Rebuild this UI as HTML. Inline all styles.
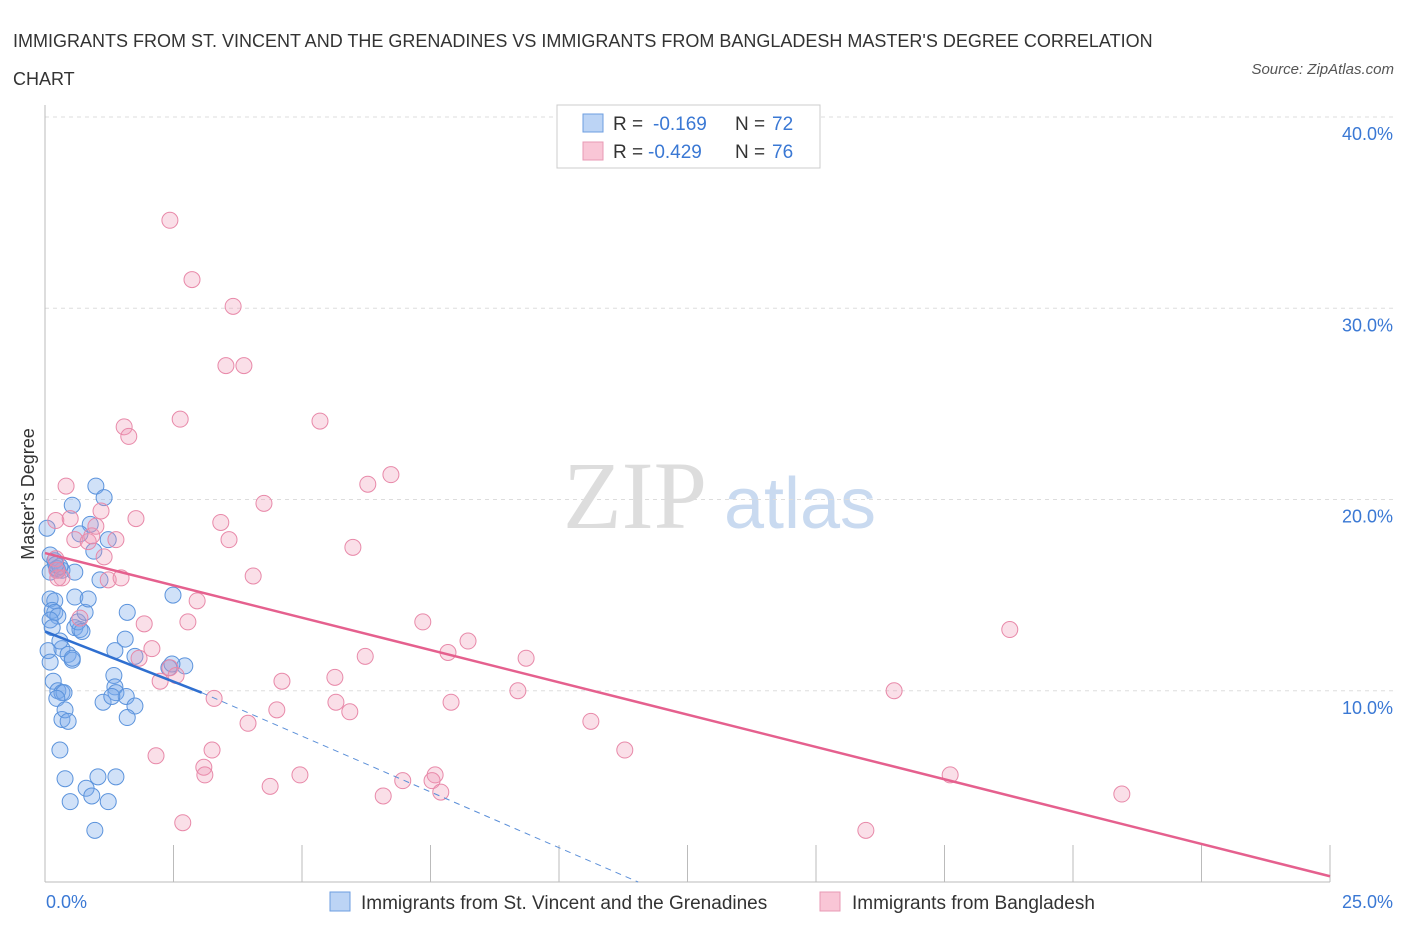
<!DOCTYPE html>
<html><head><meta charset="utf-8">
<style>
body{margin:0;background:#fff;font-family:"Liberation Sans",sans-serif;}
#wrap{position:relative;width:1406px;height:930px;overflow:hidden;}
.t{position:absolute;white-space:nowrap;}
</style></head>
<body>
<div id="wrap">
<div class="t" style="left:13px;top:22px;font-size:18px;color:#333;line-height:38px;">IMMIGRANTS FROM ST. VINCENT AND THE GRENADINES VS IMMIGRANTS FROM BANGLADESH MASTER'S DEGREE CORRELATION<br>CHART</div>
<div class="t" style="right:12px;top:61px;font-size:15px;color:#555;font-style:italic;">Source: ZipAtlas.com</div>
<svg id="svg" width="1406" height="930" style="position:absolute;left:0;top:0"></svg>
</div>
<script>
const xTicks=[0,2.5,5,7.5,10,12.5,15,17.5,20,22.5,25];
const yTicks=[10,20,30,40];
const yTickLabels=["10.0%","20.0%","30.0%","40.0%"];
const blueX=[0.04,0.1,0.19,0.25,0.1,0.33,0.23,0.29,0.1,0.19,0.14,0.19,0.25,0.1,0.14,0.33,0.45,0.53,0.06,0.1,0.16,0.25,0.33,0.37,0.23,0.33,0.39,0.45,0.29,0.39,0.49,0.53,0.58,0.68,0.64,0.72,0.78,0.58,0.84,0.88,0.95,0.99,1.15,1.07,0.53,0.58,0.68,1.23,1.36,1.56,1.6,1.34,1.36,1.38,1.58,1.13,1.3,1.75,1.6,1.03,0.8,0.91,1.38,1.23,0.97,2.49,1.75,2.41,2.72,2.47,0.21,0.29];
const blueY=[18.5,17.1,16.8,16.3,16.2,16.3,16.4,16.5,14.8,14.7,14.2,14.1,13.9,13.7,13.3,12.2,11.9,11.6,12.1,11.5,10.5,10.0,9.9,9.9,9.6,8.5,9.0,8.4,6.9,5.4,4.2,11.7,13.3,13.2,13.6,13.1,14.1,14.9,14.8,18.7,17.3,20.7,20.1,15.8,19.7,16.2,18.2,17.9,12.1,12.7,14.1,10.8,10.2,9.9,9.7,9.4,9.7,9.2,8.6,5.5,4.9,4.5,5.5,4.2,2.7,15.0,11.8,11.2,11.3,11.4,16.6,12.6];
const pinkX=[2.43,2.86,3.66,3.52,3.87,2.63,5.35,1.54,1.63,6.73,6.28,4.26,0.41,0.21,0.49,1.09,1.77,3.42,3.58,5.99,0.58,0.84,0.91,1.38,0.21,0.23,0.33,1.15,1.23,1.48,4.05,2.96,0.68,1.93,2.78,7.35,8.23,2.08,1.83,7.84,6.23,9.36,2.43,2.24,2.55,4.61,5.64,3.29,9.2,16.52,18.77,5.66,5.93,7.9,4.51,3.95,10.62,11.28,3.25,2.16,3.09,3.11,4.96,6.96,7.59,7.53,4.38,6.58,7.7,17.61,20.95,2.68,15.97,0.99,0.25];
const pinkY=[34.6,31.5,30.1,27.0,27.0,24.2,24.1,23.8,23.3,21.3,20.8,19.8,20.7,18.9,19.0,19.4,19.0,18.8,17.9,17.5,17.9,17.8,18.1,17.9,16.9,16.3,15.9,17.0,15.8,15.9,16.0,14.7,13.8,13.5,13.6,13.6,12.6,12.2,11.7,12.0,11.8,11.7,11.2,10.5,10.8,10.5,10.7,9.6,10.0,10.0,13.2,9.4,8.9,9.4,9.0,8.3,8.4,6.9,6.9,6.6,6.0,5.6,5.6,5.3,5.6,5.3,5.0,4.5,4.7,5.6,4.6,3.1,2.7,18.6,15.9];
const blueLine=[0,13.1,3.05,9.9];
const blueDash=[3.05,9.9,11.54,0];
const pinkLine=[0,17.2,25,0.3];

const svg=document.getElementById('svg');const NS='http://www.w3.org/2000/svg';
const X0=45,X1=1330,Y0=882,Y40=117;
const sx=v=>X0+(X1-X0)*v/25;
const sy=v=>Y0-(Y0-Y40)*v/40;
function mk(tag,at,name,txt){const e=document.createElementNS(NS,tag);for(const k in at)e.setAttribute(k,at[k]);


if(txt!=null)e.textContent=txt;svg.appendChild(e);return e;}
// watermark
mk('text',{x:635,y:528,'font-family':'Liberation Serif,serif','font-size':96,fill:'#ddd','text-anchor':'middle'},'watermark-zip','ZIP');
mk('text',{x:800,y:528,'font-family':'Liberation Sans,sans-serif','font-size':72,fill:'#c9daf0','text-anchor':'middle'},'watermark-atlas','atlas');
yTicks.forEach((v,i)=>{
mk('line',{x1:X0,x2:1395,y1:sy(v),y2:sy(v),stroke:'#ddd','stroke-dasharray':'4,4'},'y-gridline');
mk('text',{x:1393,y:sy(v)+23,'text-anchor':'end','font-size':18,fill:'#3a78d4'},'y-tick-label',yTickLabels[i]);
});
mk('line',{x1:X0,x2:X0,y1:105,y2:Y0,stroke:'#bbb'},'y-axis');
mk('line',{x1:X0,x2:X1,y1:Y0,y2:Y0,stroke:'#bbb'},'x-axis');
xTicks.forEach(v=>mk('line',{x1:sx(v),x2:sx(v),y1:845,y2:Y0,stroke:'#bbb'},'x-tick'));
mk('text',{x:46,y:908,'font-size':18,fill:'#3a78d4'},'x-tick-label-min','0.0%');
mk('text',{x:1393,y:908,'text-anchor':'end','font-size':18,fill:'#3a78d4'},'x-tick-label-max','25.0%');
mk('text',{x:34,y:494,'text-anchor':'middle','font-size':18,fill:'#333',transform:'rotate(-90 34 494)'},'y-axis-title',"Master's Degree");
blueX.forEach((v,i)=>mk('circle',{cx:sx(v),cy:sy(blueY[i]),r:8,fill:'rgba(120,170,235,0.35)',stroke:'#5b93dc','stroke-width':1},'blue-point'));
pinkX.forEach((v,i)=>mk('circle',{cx:sx(v),cy:sy(pinkY[i]),r:8,fill:'rgba(240,150,180,0.3)',stroke:'#e889a9','stroke-width':1},'pink-point'));
mk('line',{x1:sx(blueDash[0]),y1:sy(blueDash[1]),x2:sx(blueDash[2]),y2:sy(blueDash[3]),stroke:'#5b8fd8','stroke-width':1,'stroke-dasharray':'6,5'},'blue-trend-extension');
mk('line',{x1:sx(blueLine[0]),y1:sy(blueLine[1]),x2:sx(blueLine[2]),y2:sy(blueLine[3]),stroke:'#2f6fd0','stroke-width':2.5},'blue-trend-line');
mk('line',{x1:sx(pinkLine[0]),y1:sy(pinkLine[1]),x2:sx(pinkLine[2]),y2:sy(pinkLine[3]),stroke:'#e5608e','stroke-width':2.5},'pink-trend-line');
// top legend
mk('rect',{x:557,y:105,width:263,height:63,fill:'#fff',stroke:'#ccc'},'stats-legend-box');
mk('rect',{x:583,y:114,width:20,height:18,fill:'#bcd4f5',stroke:'#6d9ee0'},'stats-legend-blue-swatch');
mk('rect',{x:583,y:142,width:20,height:18,fill:'#f9c6d6',stroke:'#e89ab4'},'stats-legend-pink-swatch');
mk('text',{x:613,y:130,'font-size':19,fill:'#333'},'stats-legend-blue-r','R = ');
mk('text',{x:653,y:130,'font-size':19,fill:'#3a78d4'},'blue-r-value','-0.169');
mk('text',{x:735,y:130,'font-size':19,fill:'#333'},'stats-legend-blue-n','N = ');
mk('text',{x:772,y:130,'font-size':19,fill:'#3a78d4'},'blue-n-value','72');
mk('text',{x:613,y:158,'font-size':19,fill:'#333'},'stats-legend-pink-r','R = ');
mk('text',{x:648,y:158,'font-size':19,fill:'#3a78d4'},'pink-r-value','-0.429');
mk('text',{x:735,y:158,'font-size':19,fill:'#333'},'stats-legend-pink-n','N = ');
mk('text',{x:772,y:158,'font-size':19,fill:'#3a78d4'},'pink-n-value','76');
// bottom legend
mk('rect',{x:330,y:892,width:20,height:19,fill:'#bcd4f5',stroke:'#6d9ee0'},'legend-blue-swatch');
mk('text',{x:361,y:909,'font-size':19,fill:'#333'},'legend-blue-label','Immigrants from St. Vincent and the Grenadines');
mk('rect',{x:820,y:892,width:20,height:19,fill:'#f9c6d6',stroke:'#e89ab4'},'legend-pink-swatch');
mk('text',{x:852,y:909,'font-size':19,fill:'#333'},'legend-pink-label','Immigrants from Bangladesh');
</script>
</body></html>
